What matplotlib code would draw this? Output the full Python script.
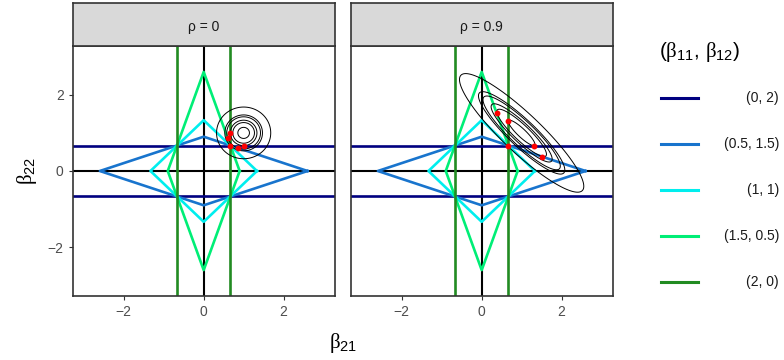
import matplotlib
matplotlib.use("Agg")
import matplotlib.pyplot as plt
from matplotlib.lines import Line2D
import numpy as np

plt.rcParams['font.family'] = ['Liberation Sans', 'DejaVu Sans']
plt.rcParams['mathtext.fontset'] = 'custom'
plt.rcParams['mathtext.rm'] = 'Liberation Sans'
plt.rcParams['mathtext.it'] = 'Liberation Serif'

# facets
rhos = [0, 0.9]
panel_titles = ["ρ = 0", "ρ = 0.9"]
center = (1.0, 1.0)

# constraint sets: half widths of each diamond along beta21 / beta22 (inf = open direction)
labels = ["(0, 2)", "(0.5, 1.5)", "(1, 1)", "(1.5, 0.5)", "(2, 0)"]
colors = ["#000080", "#1874CD", "#00EEEE", "#00EE76", "#228B22"]
half_x = [np.inf, 2.6, 1.333, 0.9, 0.667]
half_y = [0.667, 0.9, 1.333, 2.6, np.inf]

# contour levels of the loss
levels = [0.0211, 0.0734, 0.111, 0.178, 0.222, 0.46]

# solutions (red points) per panel
sol_x = [[0.667, 0.6, 0.667, 0.867, 1.0], [0.667, 0.38, 0.667, 1.51, 1.3]]
sol_y = [[1.0, 0.867, 0.667, 0.6, 0.667], [1.3, 1.51, 0.667, 0.38, 0.667]]

ticks = [-2, 0, 2]
lim = 3.28

W, H = 784, 360
fig = plt.figure(figsize=(W / 100, H / 100), dpi=100)

lefts = [72.7, 350.7]
pw = 262.0
top, bottom = 46, 296
strip_top = 3

g = np.linspace(-lim, lim, 600)
X, Y = np.meshgrid(g, g)

for i, rho in enumerate(rhos):
    ax = fig.add_axes([lefts[i] / W, 1 - bottom / H, pw / W, (bottom - top) / H])
    ax.set_xlim(-lim, lim)
    ax.set_ylim(-lim, lim)

    ax.axhline(0, color="black", lw=1.5, zorder=1)
    ax.axvline(0, color="black", lw=1.5, zorder=1)

    for a, b, c in zip(half_x, half_y, colors):
        if np.isinf(a):
            ax.axhline(b, color=c, lw=1.9, zorder=2)
            ax.axhline(-b, color=c, lw=1.9, zorder=2)
        elif np.isinf(b):
            ax.axvline(a, color=c, lw=1.9, zorder=2)
            ax.axvline(-a, color=c, lw=1.9, zorder=2)
        else:
            ax.plot([a, 0, -a, 0, a], [0, b, 0, -b, 0], color=c, lw=1.9, zorder=2)

    d1 = X - center[0]
    d2 = Y - center[1]
    Z = d1 ** 2 + 2 * rho * d1 * d2 + d2 ** 2
    ax.contour(X, Y, Z, levels=levels, colors="black", linewidths=0.7, zorder=3)

    ax.scatter(sol_x[i], sol_y[i], s=18, color="red", zorder=4, linewidths=0)

    ax.set_xticks(ticks)
    ax.set_yticks(ticks)
    if i == 1:
        ax.tick_params(axis="y", left=False, labelleft=False)
    ax.tick_params(colors="#333333", labelcolor="#4D4D4D", labelsize=10,
                   length=3, width=0.8)
    for s in ax.spines.values():
        s.set_color("#333333")
        s.set_linewidth(1.2)

    sax = fig.add_axes([lefts[i] / W, 1 - top / H, pw / W, (top - strip_top) / H])
    sax.set_facecolor("#D9D9D9")
    sax.set_xticks([])
    sax.set_yticks([])
    for s in sax.spines.values():
        s.set_color("#333333")
        s.set_linewidth(1.2)
    sax.text(0.5, 0.45, panel_titles[i], ha="center", va="center",
             fontsize=10, color="#1A1A1A", transform=sax.transAxes)

fig.text(343 / W, 1 - 343 / H, r"$\beta_{21}$", ha="center", va="center", fontsize=15)
fig.text(27 / W, 1 - 171 / H, r"$\beta_{22}$", ha="center", va="center",
         fontsize=15, rotation=90)

# legend
fig.text(700 / W, 1 - 52 / H, r"$(\beta_{11},\,\beta_{12})$", ha="center", va="center",
         fontsize=15)
for k, (lab, c) in enumerate(zip(labels, colors)):
    yy = 1 - (98 + 46 * k) / H
    fig.add_artist(Line2D([661 / W, 698 / W], [yy, yy], color=c, lw=2.2,
                          transform=fig.transFigure))
    fig.text(779 / W, yy, lab, ha="right", va="center", fontsize=10, color="#1A1A1A")

fig.savefig("out.png", dpi=100)
